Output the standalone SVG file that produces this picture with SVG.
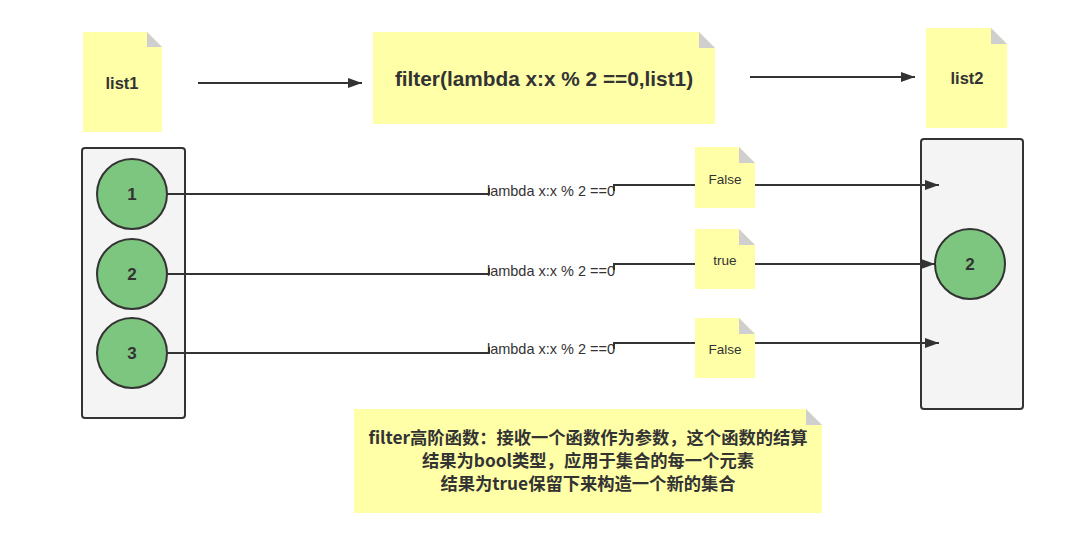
<svg xmlns="http://www.w3.org/2000/svg" width="1085" height="533" viewBox="0 0 1085 533">
<style>
.note{fill:#ffffa8}
.fold{fill:#cfcfcf}
.box{fill:#f4f4f4;stroke:#333;stroke-width:2}
.circ{fill:#7dc67f;stroke:#333;stroke-width:2}
.ln{fill:none;stroke:#333;stroke-width:2}
.t{font-family:"Liberation Sans","Noto Sans CJK SC",sans-serif;fill:#333;text-anchor:middle}
.b{font-weight:bold}
.cjk{font-family:"Noto Sans CJK SC","Liberation Sans",sans-serif;font-weight:bold;fill:#333;text-anchor:middle;font-size:17.3px}
</style>
<defs>
<marker id="ah" viewBox="0 0 14 10" refX="14" refY="5" markerWidth="14" markerHeight="10" markerUnits="userSpaceOnUse" orient="auto">
<path d="M0,0 L14,5 L0,10 z" fill="#333"/>
</marker>
</defs>
<rect width="1085" height="533" fill="#fff"/>

<g id="list1">
<path class="note" d="M83,32 H147 L162,47 V132 H83 z"/>
<path class="fold" d="M147,32 L162,47 H147 z"/>
<text class="t b" x="122" y="89" font-size="16.5">list1</text>
</g>

<g id="filter">
<path class="note" d="M373,32 H699 L715,48 V124 H373 z"/>
<path class="fold" d="M699,32 L715,48 H699 z"/>
<text class="t b" x="544" y="86" font-size="20.8">filter(lambda x:x % 2 ==0,list1)</text>
</g>

<g id="list2">
<path class="note" d="M926,28 H991 L1007,44 V128 H926 z"/>
<path class="fold" d="M991,28 L1007,44 H991 z"/>
<text class="t b" x="967" y="84" font-size="16.5">list2</text>
</g>

<g id="source">
<rect class="box" x="82" y="148" width="103" height="270" rx="3"/>
</g>
<g id="n1"><circle class="circ" cx="132" cy="194" r="35"/><text class="t b" x="132" y="200" font-size="17">1</text></g>
<g id="n2"><circle class="circ" cx="132" cy="274" r="35"/><text class="t b" x="132" y="280" font-size="17">2</text></g>
<g id="n3"><circle class="circ" cx="132" cy="353" r="35"/><text class="t b" x="132" y="359" font-size="17">3</text></g>

<g id="result">
<rect class="box" x="921" y="139" width="102" height="270" rx="3"/>
</g>

<g id="f1">
<path class="note" d="M695,147 H739 L755,163 V208 H695 z"/>
<path class="fold" d="M739,147 L755,163 H739 z"/>
<text class="t" x="725" y="184" font-size="13.5">False</text>
</g>
<g id="f2">
<path class="note" d="M695,229 H739 L755,245 V289 H695 z"/>
<path class="fold" d="M739,229 L755,245 H739 z"/>
<text class="t" x="725" y="265" font-size="13.5">true</text>
</g>
<g id="f3">
<path class="note" d="M695,318 H739 L755,334 V378 H695 z"/>
<path class="fold" d="M739,318 L755,334 H739 z"/>
<text class="t" x="725" y="354" font-size="13.5">False</text>
</g>

<g id="connectors">
<line class="ln" x1="198" y1="83" x2="362" y2="83" marker-end="url(#ah)"/>
<line class="ln" x1="750" y1="77" x2="915" y2="77" marker-end="url(#ah)"/>
<path class="ln" d="M167,194 H489 V188"/>
<path class="ln" d="M614,191 V185 H695"/>
<path class="ln" d="M167,274 H489 V268"/>
<path class="ln" d="M614,270 V264 H695"/>
<path class="ln" d="M167,353 H489 V347"/>
<path class="ln" d="M614,349 V343 H695"/>
<line class="ln" x1="755" y1="185" x2="939" y2="185" marker-end="url(#ah)"/>
<line class="ln" x1="755" y1="264" x2="935" y2="264" marker-end="url(#ah)"/>
<line class="ln" x1="755" y1="343" x2="939" y2="343" marker-end="url(#ah)"/>
<text class="t" x="551" y="196" font-size="14.5">lambda x:x % 2 ==0</text>
<text class="t" x="551" y="276" font-size="14.5">lambda x:x % 2 ==0</text>
<text class="t" x="551" y="354" font-size="14.5">lambda x:x % 2 ==0</text>
</g>

<g id="r2"><circle class="circ" cx="970" cy="264" r="35"/><text class="t b" x="970" y="270" font-size="17">2</text></g>

<g id="desc">
<path class="note" d="M354,409 H806 L822,425 V513 H354 z"/>
<path class="fold" d="M806,409 L822,425 H806 z"/>
<text class="cjk" x="588" y="444">filter高阶函数：接收一个函数作为参数，这个函数的结算</text>
<text class="cjk" x="588" y="467">结果为bool类型，应用于集合的每一个元素</text>
<text class="cjk" x="588" y="490">结果为true保留下来构造一个新的集合</text>
</g>
</svg>
